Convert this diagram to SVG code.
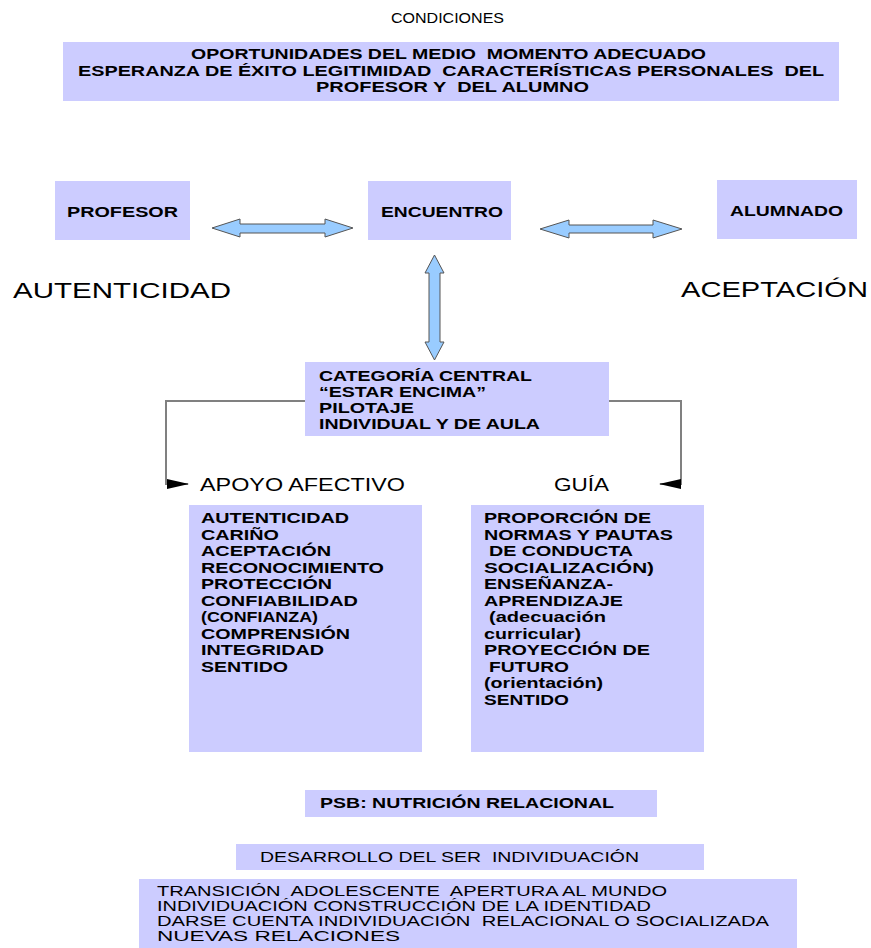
<svg xmlns="http://www.w3.org/2000/svg" width="871" height="948" viewBox="0 0 871 948">
<style>
.box{fill:#ccccff;}
.t{font-family:"Liberation Sans",Arial,sans-serif;fill:#000;white-space:pre;}
.b{font-weight:bold;font-size:15px;}
.r{font-weight:normal;}
.arr{fill:#99ccff;stroke:#555;stroke-width:1;}
.con{fill:none;stroke:#808080;stroke-width:2;}
</style>
<defs>
<marker id="head" markerUnits="userSpaceOnUse" markerWidth="22" markerHeight="12" viewBox="0 0 22 12" refX="21" refY="6" orient="auto">
<path d="M0,1 L22,6 L0,11 Z" fill="#000"/>
</marker>
</defs>
<rect width="871" height="948" fill="#fff"/>

<g id="condiciones-title">
<text class="t r" x="391" y="23" font-size="14" fill="#333" textLength="113" lengthAdjust="spacingAndGlyphs">CONDICIONES</text>
</g>

<g id="condiciones">
<rect class="box" x="63" y="42" width="776" height="59"/>
<text class="t b" x="191" y="59" textLength="515" lengthAdjust="spacingAndGlyphs">OPORTUNIDADES DEL MEDIO  MOMENTO ADECUADO</text>
<text class="t b" x="78" y="76" textLength="746" lengthAdjust="spacingAndGlyphs">ESPERANZA DE ÉXITO LEGITIMIDAD  CARACTERÍSTICAS PERSONALES  DEL</text>
<text class="t b" x="316" y="92" textLength="273" lengthAdjust="spacingAndGlyphs">PROFESOR Y  DEL ALUMNO</text>
</g>

<g id="profesor">
<rect class="box" x="55" y="181" width="135" height="59"/>
<text class="t b" x="67" y="217" font-size="14" textLength="111" lengthAdjust="spacingAndGlyphs">PROFESOR</text>
</g>

<g id="encuentro">
<rect class="box" x="368" y="181" width="143" height="59"/>
<text class="t b" x="381" y="217" font-size="14" textLength="122" lengthAdjust="spacingAndGlyphs">ENCUENTRO</text>
</g>

<g id="alumnado">
<rect class="box" x="717" y="180" width="140" height="59"/>
<text class="t b" x="730" y="216" font-size="14" textLength="113" lengthAdjust="spacingAndGlyphs">ALUMNADO</text>
</g>

<g id="autenticidad">
<text class="t r" x="13" y="298" font-size="22" textLength="218" lengthAdjust="spacingAndGlyphs">AUTENTICIDAD</text>
</g>

<g id="aceptacion">
<text class="t r" x="681" y="297" font-size="22" textLength="187" lengthAdjust="spacingAndGlyphs">ACEPTACIÓN</text>
</g>

<g id="categoria-central">
<rect class="box" x="305" y="362" width="304" height="74"/>
<text class="t b" x="319" y="381" textLength="213" lengthAdjust="spacingAndGlyphs">CATEGORÍA CENTRAL</text>
<text class="t b" x="319" y="397" textLength="167" lengthAdjust="spacingAndGlyphs">“ESTAR ENCIMA”</text>
<text class="t b" x="319" y="413" textLength="95" lengthAdjust="spacingAndGlyphs">PILOTAJE</text>
<text class="t b" x="319" y="429" textLength="221" lengthAdjust="spacingAndGlyphs">INDIVIDUAL Y DE AULA</text>
</g>

<g id="apoyo-afectivo-label">
<text class="t r" x="200" y="491" font-size="18" textLength="205" lengthAdjust="spacingAndGlyphs">APOYO AFECTIVO</text>
</g>

<g id="guia-label">
<text class="t r" x="554" y="491" font-size="18" textLength="55" lengthAdjust="spacingAndGlyphs">GUÍA</text>
</g>

<g id="apoyo-afectivo">
<rect class="box" x="189" y="505" width="233" height="247"/>
<text class="t b" x="201" y="523" textLength="148" lengthAdjust="spacingAndGlyphs">AUTENTICIDAD</text>
<text class="t b" x="201" y="540" textLength="78" lengthAdjust="spacingAndGlyphs">CARIÑO</text>
<text class="t b" x="201" y="556" textLength="130" lengthAdjust="spacingAndGlyphs">ACEPTACIÓN</text>
<text class="t b" x="201" y="573" textLength="183" lengthAdjust="spacingAndGlyphs">RECONOCIMIENTO</text>
<text class="t b" x="201" y="589" textLength="131" lengthAdjust="spacingAndGlyphs">PROTECCIÓN</text>
<text class="t b" x="201" y="606" textLength="157" lengthAdjust="spacingAndGlyphs">CONFIABILIDAD</text>
<text class="t b" x="201" y="622" textLength="117" lengthAdjust="spacingAndGlyphs">(CONFIANZA)</text>
<text class="t b" x="201" y="639" textLength="149" lengthAdjust="spacingAndGlyphs">COMPRENSIÓN</text>
<text class="t b" x="201" y="655" textLength="123" lengthAdjust="spacingAndGlyphs">INTEGRIDAD</text>
<text class="t b" x="201" y="672" textLength="87" lengthAdjust="spacingAndGlyphs">SENTIDO</text>
</g>

<g id="guia">
<rect class="box" x="471" y="505" width="233" height="247"/>
<text class="t b" x="484" y="523" textLength="167" lengthAdjust="spacingAndGlyphs">PROPORCIÓN DE</text>
<text class="t b" x="484" y="540" textLength="189" lengthAdjust="spacingAndGlyphs">NORMAS Y PAUTAS</text>
<text class="t b" x="489" y="556" textLength="144" lengthAdjust="spacingAndGlyphs">DE CONDUCTA</text>
<text class="t b" x="484" y="573" textLength="170" lengthAdjust="spacingAndGlyphs">SOCIALIZACIÓN)</text>
<text class="t b" x="484" y="589" textLength="129" lengthAdjust="spacingAndGlyphs">ENSEÑANZA-</text>
<text class="t b" x="484" y="606" textLength="139" lengthAdjust="spacingAndGlyphs">APRENDIZAJE</text>
<text class="t b" x="489" y="622" textLength="117" lengthAdjust="spacingAndGlyphs">(adecuación</text>
<text class="t b" x="484" y="639" textLength="97" lengthAdjust="spacingAndGlyphs">curricular)</text>
<text class="t b" x="484" y="655" textLength="166" lengthAdjust="spacingAndGlyphs">PROYECCIÓN DE</text>
<text class="t b" x="489" y="672" textLength="80" lengthAdjust="spacingAndGlyphs">FUTURO</text>
<text class="t b" x="484" y="688" textLength="119" lengthAdjust="spacingAndGlyphs">(orientación)</text>
<text class="t b" x="484" y="705" textLength="85" lengthAdjust="spacingAndGlyphs">SENTIDO</text>
</g>

<g id="psb">
<rect class="box" x="305" y="790" width="352" height="27"/>
<text class="t b" x="320" y="808" textLength="294" lengthAdjust="spacingAndGlyphs">PSB: NUTRICIÓN RELACIONAL</text>
</g>

<g id="desarrollo">
<rect class="box" x="236" y="844" width="468" height="26"/>
<text class="t r" x="260" y="862" font-size="15" textLength="379" lengthAdjust="spacingAndGlyphs">DESARROLLO DEL SER  INDIVIDUACIÓN</text>
</g>

<g id="transicion">
<rect class="box" x="139" y="879" width="658" height="69"/>
<text class="t r" x="157" y="896" font-size="14" textLength="510" lengthAdjust="spacingAndGlyphs">TRANSICIÓN  ADOLESCENTE  APERTURA AL MUNDO</text>
<text class="t r" x="157" y="911" font-size="14" textLength="494" lengthAdjust="spacingAndGlyphs">INDIVIDUACIÓN CONSTRUCCIÓN DE LA IDENTIDAD</text>
<text class="t r" x="157" y="926" font-size="14" textLength="612" lengthAdjust="spacingAndGlyphs">DARSE CUENTA INDIVIDUACIÓN  RELACIONAL O SOCIALIZADA</text>
<text class="t r" x="157" y="941" font-size="14" textLength="243" lengthAdjust="spacingAndGlyphs">NUEVAS RELACIONES</text>
</g>

<g id="connectors">
<polygon class="arr" points="212,228 240,219 240,224 325,224 325,219 353,228 325,237 325,233 240,233 240,237"/>
<polygon class="arr" points="540,229 569,220 569,225 653,225 653,220 682,229 653,238 653,233 569,233 569,238"/>
<polygon class="arr" points="434.5,255 444,273 440,273 440,342 444,342 434.5,360 425,342 429,342 429,273 425,273"/>
<path class="con" d="M305,401 H166 V484 H188" marker-end="url(#head)"/>
<path class="con" d="M609,401 H681 V484 H660" marker-end="url(#head)"/>
</g>
</svg>
